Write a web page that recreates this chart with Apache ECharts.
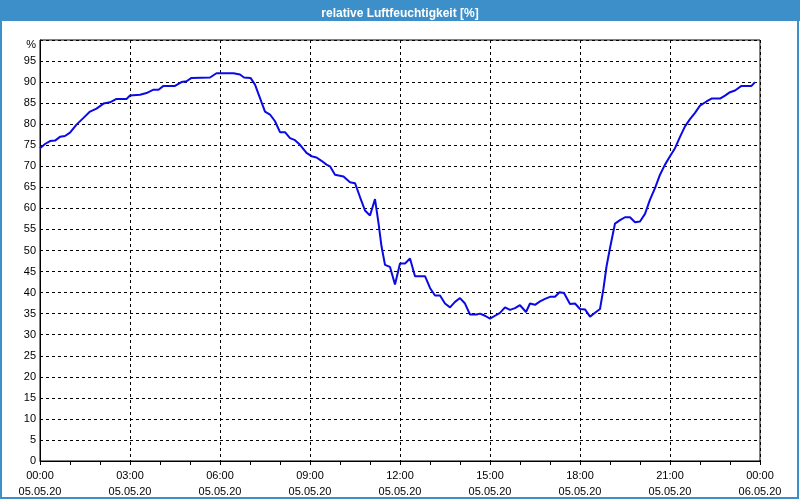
<!DOCTYPE html>
<html>
<head>
<meta charset="utf-8">
<script src="https://cdn.jsdelivr.net/npm/echarts@6/dist/echarts.min.js"></script>
<style>
html,body{margin:0;padding:0;background:#fff;}
#c{width:800px;height:500px;}
</style>
</head>
<body>
<div id="c"></div>
<script>
const titleText = 'relative Luftfeuchtigkeit [%]';
const timeLabels = ['00:00','03:00','06:00','09:00','12:00','15:00','18:00','21:00','00:00'];
const dateLabels = ['05.05.20','05.05.20','05.05.20','05.05.20','05.05.20','05.05.20','05.05.20','05.05.20','06.05.20'];
const minutes = [0,10,20,30,40,50,60,73,87,100,113,127,140,153,173,180,200,213,227,237,247,270,283,293,303,340,353,387,400,408,421,430,440,450,460,470,480,490,500,510,520,533,543,553,563,573,580,590,607,620,630,640,650,660,670,677,683,690,700,710,720,730,740,750,770,780,790,800,810,820,830,840,850,860,873,880,890,900,910,920,930,940,950,960,972,980,990,1000,1010,1020,1030,1039,1048,1060,1070,1080,1090,1100,1110,1120,1127,1133,1140,1150,1160,1170,1180,1190,1200,1210,1220,1230,1240,1250,1260,1270,1280,1290,1300,1310,1320,1333,1343,1360,1370,1380,1390,1403,1423,1430];
const humidity = [74.3,75.3,76.0,76.1,77.0,77.2,78.0,79.9,81.5,83.0,83.7,84.9,85.2,86.0,86.0,86.8,87.0,87.4,88.2,88.2,89.1,89.1,90.0,90.2,91.0,91.1,92.1,92.1,91.8,91.1,91.0,89.4,86.2,83.0,82.3,80.7,78.1,78.1,76.7,76.2,75.1,73.2,72.4,72.1,71.3,70.4,70.0,68.0,67.6,66.2,66.0,62.7,59.5,58.3,62.2,56.5,51.0,46.6,46.1,41.9,46.9,46.9,48.1,43.9,43.9,41.1,39.3,39.3,37.4,36.5,37.8,38.7,37.4,34.8,34.8,35.0,34.5,33.8,34.5,35.2,36.5,35.9,36.3,37.0,35.4,37.4,37.1,37.9,38.5,39.0,39.0,40.1,39.9,37.3,37.4,36.1,36.0,34.3,35.2,36.1,41.0,46.2,50.6,56.4,57.2,57.9,57.9,56.7,56.9,58.7,62.1,64.8,68.0,70.4,72.4,74.3,77.0,79.5,81.2,82.7,84.4,85.4,86.1,86.1,86.8,87.6,88.0,89.1,89.1,90.0];

const data = minutes.map((m, i) => [m, humidity[i]]);
const font = 'Liberation Sans';
const chart = echarts.init(document.getElementById('c'), null, {renderer: 'canvas'});
chart.setOption({
  animation: false,
  backgroundColor: '#fff',
  title: {
    text: titleText, left: 'center', top: 3,
    textStyle: {color: '#fff', fontWeight: 'bold', fontSize: 12, fontFamily: font}
  },
  graphic: [
    {type: 'rect', z: -1, shape: {x: 0, y: 0, width: 800, height: 21}, style: {fill: '#3d8fc9'}},
    {type: 'rect', z: -1, shape: {x: 1, y: 1, width: 797, height: 497}, style: {fill: 'none', stroke: '#3d8fc9', lineWidth: 2}}
  ],
  grid: {left: 40, right: 40, top: 40, bottom: 39, show: true, borderColor: '#000', borderWidth: 1, backgroundColor: 'transparent'},
  xAxis: {
    type: 'value', min: 0, max: 1440, interval: 180,
    axisLine: {show: true, lineStyle: {color: '#000', width: 1}},
    axisTick: {show: true, length: 4, lineStyle: {color: '#000'}},
    minorTick: {show: true, splitNumber: 3, length: 4, lineStyle: {color: '#000'}},
    splitLine: {show: true, lineStyle: {color: '#000', type: [3, 3], width: 1}},
    axisLabel: {
      showMinLabel: true, showMaxLabel: true, margin: 7,
      color: '#000', fontSize: 11, fontFamily: font, lineHeight: 16,
      formatter: v => { const i = Math.round(v / 180); return timeLabels[i] + '\n' + dateLabels[i]; }
    }
  },
  yAxis: {
    type: 'value', min: 0, max: 100, interval: 5,
    axisLine: {show: true, lineStyle: {color: '#000', width: 1}},
    axisTick: {show: false},
    splitLine: {show: true, lineStyle: {color: '#000', type: [3, 3], width: 1}},
    axisLabel: {
      showMaxLabel: true, margin: 4, color: '#000', fontSize: 11, fontFamily: font,
      formatter: v => v === 100 ? '{p|%}' : String(v),
      rich: {p: {padding: [10, 0, 0, 0], color: '#000', fontSize: 11, fontFamily: font}}
    }
  },
  series: [{
    type: 'line', data: data, showSymbol: false, symbol: 'none',
    lineStyle: {color: '#0a0ae6', width: 2}, itemStyle: {color: '#0a0ae6'}
  }]
});
</script>
</body>
</html>
